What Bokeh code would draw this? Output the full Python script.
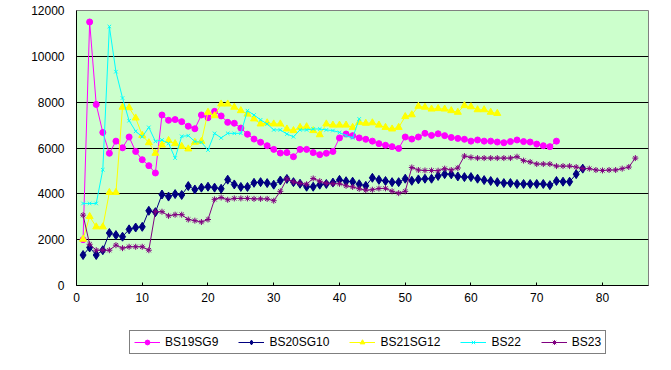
from bokeh.plotting import figure
from bokeh.layouts import column
from bokeh.models import Range1d, FixedTicker, Legend, LegendItem
from bokeh.embed import file_html
from bokeh.resources import INLINE

x_ticks = [0, 10, 20, 30, 40, 50, 60, 70, 80]
y_ticks = [0, 2000, 4000, 6000, 8000, 10000, 12000]

bs19sg9 = [2000, 11500, 7900, 6680, 5770, 6300, 6010, 6480, 5850, 5490,
           5230, 4910, 7440, 7210, 7240, 7150, 6950, 6840, 7440, 7320,
           7600, 7400, 7120, 7080, 6870, 6600, 6390, 6250, 6100, 5940,
           5780, 5800, 5620, 5940, 5940, 5800, 5710, 5770, 5850, 6440,
           6610, 6540, 6440, 6380, 6300, 6190, 6120, 6060, 5980, 6480,
           6390, 6480, 6640, 6550, 6620, 6540, 6460, 6420, 6380, 6300,
           6350, 6300, 6300, 6260, 6230, 6280, 6350, 6280, 6260, 6170,
           6100, 6060, 6300]
bs20sg10 = [1330, 1660, 1330, 1540, 2290, 2200, 2130, 2450, 2530, 2560,
            3260, 3200, 3970, 3880, 3990, 3950, 4340, 4190, 4270, 4310,
            4270, 4220, 4620, 4410, 4300, 4300, 4480, 4510, 4470, 4400,
            4580, 4650, 4510, 4440, 4310, 4310, 4400, 4430, 4490, 4610,
            4550, 4530, 4420, 4350, 4700, 4610, 4560, 4510, 4510, 4660,
            4570, 4630, 4660, 4660, 4780, 4860, 4850, 4760, 4730, 4730,
            4660, 4600, 4560, 4510, 4470, 4470, 4430, 4430, 4430, 4430,
            4430, 4380, 4560, 4530, 4530, 4860, 5100]
bs21sg12 = [2020, 3010, 2560, 2560, 4060, 4060, 7780, 7760, 7310, 6550,
            6230, 5770, 6130, 6330, 6190, 6070, 5960, 6250, 6290, 7560,
            7410, 7920, 7920, 7780, 7630, 7480, 7270, 7050, 7100, 7050,
            7050, 6830, 6760, 6900, 6930, 6760, 6580, 7050, 7000, 7000,
            7000, 6900, 7120, 7080, 7100, 7000, 6900, 6830, 6900, 7370,
            7450, 7820, 7780, 7700, 7720, 7700, 7630, 7560, 7850, 7800,
            7670, 7670, 7560, 7510]
bs22 = [3580, 3580, 3580, 5050, 11300, 9330, 8180, 7190, 6730, 6490,
        6900, 6290, 6350, 6200, 5560, 6510, 6540, 6280, 6250, 5910,
        6640, 6440, 6640, 6640, 6640, 7630, 7440, 7230, 7050, 6790,
        6790, 6610, 6490, 6790, 6790, 6830, 6830, 6790, 6760, 6680,
        6540, 6440, 7270]
bs23 = [3070, 1800, 1540, 1540, 1540, 1760, 1630, 1690, 1690, 1690,
        1540, 3220, 3220, 3040, 3090, 3090, 2880, 2830, 2770, 2880,
        3760, 3840, 3740, 3800, 3800, 3800, 3780, 3780, 3780, 3700,
        4110, 4650, 4520, 4460, 4420, 4670, 4550, 4460, 4440, 4440,
        4350, 4300, 4220, 4160, 4180, 4230, 4240, 4110, 4030, 4110,
        5150, 5040, 5020, 5020, 5010, 5100, 5040, 5130, 5650, 5590,
        5560, 5560, 5560, 5560, 5560, 5560, 5620, 5450, 5390, 5300,
        5300, 5300, 5210, 5210, 5210, 5170, 5100, 5100, 5040, 5020,
        5040, 5040, 5100, 5170, 5560]

series = [
    ("BS19SG9", bs19sg9, "#FF00FF", "circle", 6),
    ("BS20SG10", bs20sg10, "#000080", "diamond", 9),
    ("BS21SG12", bs21sg12, "#FFFF00", "triangle", 7),
    ("BS22", bs22, "#00FFFF", "x", 5),
    ("BS23", bs23, "#800080", "asterisk", 6),
]

FONT = "Liberation Sans"

# main chart
p = figure(width=655, height=322, output_backend="svg", toolbar_location=None,
           x_range=Range1d(0, 87), y_range=Range1d(0, 12000),
           min_border_left=76, min_border_right=7, min_border_top=10,
           min_border_bottom=37)
p.background_fill_color = "#CCFFCC"
p.border_fill_color = "white"
p.outline_line_color = "#808080"
p.outline_line_width = 1

p.xgrid.visible = False
p.ygrid.ticker = FixedTicker(ticks=y_ticks)
p.ygrid.grid_line_color = "black"
p.ygrid.grid_line_width = 1

p.xaxis.ticker = FixedTicker(ticks=x_ticks)
p.yaxis.ticker = FixedTicker(ticks=y_ticks)
for ax in (p.xaxis[0], p.yaxis[0]):
    ax.axis_line_color = "black"
    ax.axis_line_width = 1
    ax.major_tick_line_color = "black"
    ax.minor_tick_line_color = None
    ax.major_label_text_font = FONT
    ax.major_label_text_font_size = "12px"
    ax.major_label_text_color = "black"
p.xaxis.major_tick_in = 3
p.xaxis.major_tick_out = 0
p.xaxis.major_label_standoff = 7
p.yaxis.major_tick_in = 0
p.yaxis.major_tick_out = 0
p.yaxis.major_label_standoff = 12

# legend strip below the chart (its frame shows no data: y range is below 0)
lg = figure(width=655, height=32, output_backend="svg", toolbar_location=None,
            x_range=Range1d(0, 87), y_range=Range1d(-2, -1),
            x_axis_type=None, y_axis_type=None,
            min_border_left=0, min_border_right=0, min_border_top=0,
            min_border_bottom=0)
lg.grid.visible = False
lg.outline_line_color = None
lg.background_fill_color = "white"
lg.border_fill_color = "white"

items = []
for name, vals, color, marker, size in series:
    xs = list(range(1, len(vals) + 1))
    p.line(xs, vals, line_color=color, line_width=1)
    p.scatter(xs, vals, marker=marker, size=size, fill_color=color,
              line_color=color, line_width=1)
    lr = lg.line(xs, vals, line_color=color, line_width=1)
    sr = lg.scatter(xs, vals, marker=marker, size=size - 1, fill_color=color,
                    line_color=color, line_width=1)
    items.append(LegendItem(label=name, renderers=[lr, sr]))

legend = Legend(items=items, orientation="horizontal", location=(53, 0),
                padding=4, spacing=20, glyph_width=26, glyph_height=12,
                label_standoff=5, label_height=12,
                label_text_font=FONT, label_text_font_size="12px",
                label_text_color="black",
                border_line_color="black", border_line_width=1,
                background_fill_color="white", background_fill_alpha=1,
                margin=0)
lg.add_layout(legend)

layout = column(p, lg, spacing=0)
open("out.html", "w").write(file_html(layout, INLINE))
